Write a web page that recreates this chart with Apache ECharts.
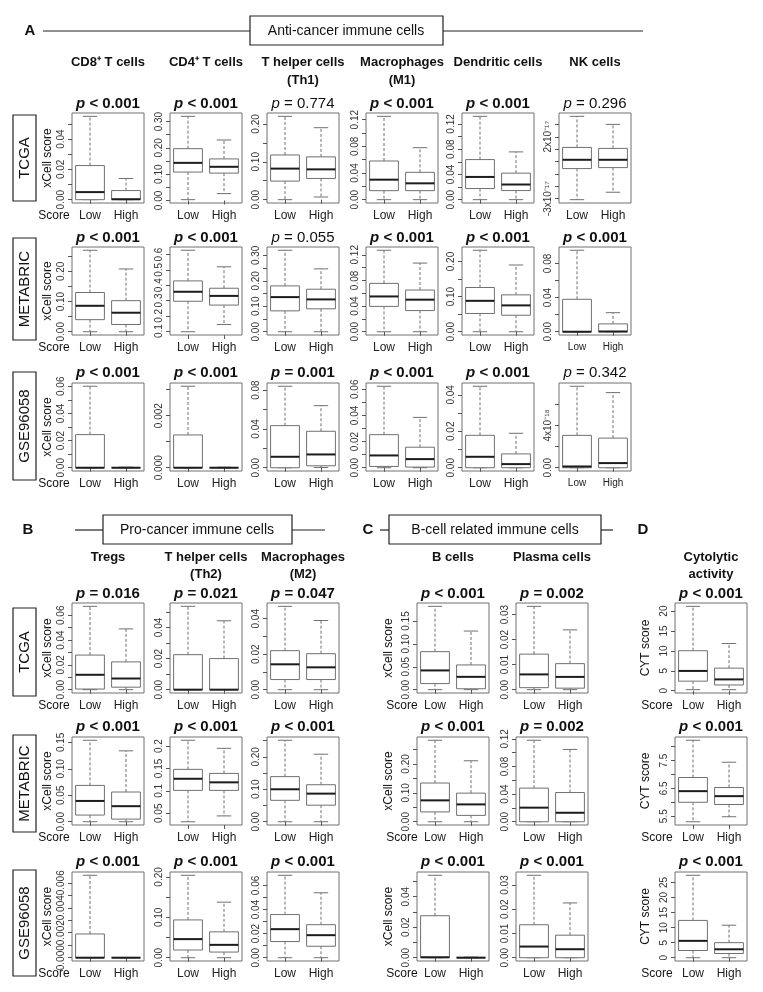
<!DOCTYPE html>
<html>
<head>
<meta charset="utf-8">
<title>xCell boxplots</title>
<script src="https://cdn.jsdelivr.net/npm/echarts@6/dist/echarts.min.js"></script>
<style>
html, body { margin: 0; padding: 0; background: #fff; }
#main { width: 763px; height: 992px; }
</style>
</head>
<body>
<div id="main"></div>
<script>
var groups = ['Low', 'High'];

// each box is [min, Q1, median, Q3, max], Low first then High
// A, TCGA
var tcgaCD8 = [[0, 0, 0.005, 0.0225, 0.055], [0, 0, 0.0003, 0.006, 0.014]];
var tcgaCD4 = [[0.003, 0.108, 0.143, 0.197, 0.32], [0.026, 0.104, 0.128, 0.158, 0.23]];
var tcgaTh1 = [[0, 0.049, 0.082, 0.118, 0.22], [0.007, 0.056, 0.08, 0.113, 0.19]];
var tcgaM1 = [[0, 0.0135, 0.03, 0.058, 0.125], [0, 0.0135, 0.0245, 0.041, 0.078]];
var tcgaDC = [[0, 0.0176, 0.036, 0.0635, 0.132], [0, 0.0144, 0.024, 0.042, 0.0757]];
var tcgaNK = [[-3.08e-17, -0.57e-17, 0.14e-17, 1.14e-17, 3.65e-17], [-2.48e-17, -0.49e-17, 0.14e-17, 1.06e-17, 3.0e-17]];
// A, METABRIC
var mbCD8 = [[0, 0.04, 0.086, 0.13, 0.27], [0, 0.024, 0.063, 0.103, 0.208]];
var mbCD4 = [[0.096, 0.295, 0.357, 0.428, 0.628], [0.143, 0.27, 0.33, 0.38, 0.52]];
var mbTh1 = [[0, 0.082, 0.136, 0.18, 0.32], [0, 0.09, 0.127, 0.167, 0.247]];
var mbM1 = [[0, 0.0395, 0.055, 0.0754, 0.127], [0, 0.033, 0.05, 0.065, 0.107]];
var mbDC = [[0, 0.052, 0.088, 0.126, 0.232], [0, 0.047, 0.075, 0.105, 0.19]];
var mbNK = [[0, 0, 0, 0.038, 0.0954], [0, 0, 0.0003, 0.0092, 0.0223]];
// A, GSE96058
var gseCD8 = [[0, 0, 0, 0.0244, 0.06], [0, 0, 0, 0.0002, 0.0004]];
var gseCD4 = [[0, 0, 0, 0.00126, 0.00313], [0, 0, 0, 0.00001, 0.00002]];
var gseTh1 = [[0, 0, 0.0113, 0.0434, 0.084], [0.0003, 0.002, 0.0137, 0.0376, 0.064]];
var gseM1 = [[0, 0.001, 0.0094, 0.0253, 0.0623], [0, 0.0005, 0.0066, 0.0157, 0.0385]];
var gseDC = [[0, 0, 0.006, 0.0178, 0.0447], [0, 0, 0.002, 0.0076, 0.0189]];
var gseNK = [[0, 0, 0.12e-18, 3.06e-18, 7.7e-18], [0, 0, 0.44e-18, 2.8e-18, 7.1e-18]];
// B, C, D - TCGA
var tcgaTreg = [[0, 0.0005, 0.012, 0.0279, 0.0672], [0, 0.002, 0.009, 0.0224, 0.049]];
var tcgaTh2 = [[0, 0, 0, 0.0225, 0.0536], [0, 0, 0, 0.02, 0.0443]];
var tcgaM2 = [[0, 0.0057, 0.0143, 0.022, 0.047], [0, 0.0057, 0.0126, 0.0203, 0.039]];
var tcgaB = [[0, 0.0133, 0.042, 0.083, 0.182], [0, 0.002, 0.028, 0.054, 0.128]];
var tcgaPlasma = [[0, 0.0008, 0.0061, 0.0142, 0.0333], [0, 0.0006, 0.0051, 0.0104, 0.0239]];
var tcgaCYT = [[0.26, 2.4, 4.97, 10.05, 21.2], [0.26, 1.44, 2.84, 5.67, 11.85]];
// B, C, D - METABRIC
var mbTreg = [[0, 0.0126, 0.0393, 0.0687, 0.154], [0, 0.005, 0.0294, 0.0562, 0.134]];
var mbTh2 = [[0.031, 0.101, 0.127, 0.148, 0.213], [0.044, 0.101, 0.119, 0.139, 0.195]];
var mbM2 = [[0, 0.066, 0.1, 0.139, 0.251], [0, 0.051, 0.0866, 0.114, 0.208]];
var mbB = [[0, 0.034, 0.074, 0.134, 0.282], [0, 0.022, 0.06, 0.099, 0.211]];
var mbPlasma = [[0, 0, 0.0204, 0.0487, 0.118], [0, 0, 0.013, 0.0423, 0.1047]];
var mbCYT = [[5.3, 6.0, 6.4, 6.89, 8.23], [5.48, 5.92, 6.22, 6.53, 7.44]];
// B, C, D - GSE96058
var gseTreg = [[0, 0, 0, 0.0019, 0.0066], [0, 0, 0, 0.00001, 0.00002]];
var gseTh2 = [[0, 0.019, 0.046, 0.0935, 0.204], [0, 0.014, 0.0318, 0.064, 0.1375]];
var gseM2 = [[0, 0.0134, 0.0237, 0.0358, 0.0684], [0, 0.0095, 0.0187, 0.0274, 0.0539]];
var gseB = [[0, 0, 0.0003, 0.0275, 0.054], [0, 0, 0, 0.0002, 0.0004]];
var gsePlasma = [[0, 0, 0.0046, 0.0136, 0.034], [0, 0, 0.0035, 0.0093, 0.0226]];
var gseCYT = [[0, 2.4, 5.6, 12.4, 27.4], [0, 1.4, 2.8, 5.0, 10.8]];

// y tick values and their labels ('' = tick without label)
var t2 = [0, 0.01, 0.02, 0.03, 0.04, 0.05, 0.06];
var tCD8a = [0, 0.01, 0.02, 0.03, 0.04, 0.05];          var lCD8a = ['0.00', '', '0.02', '', '0.04', ''];
var tCD4a = [0, 0.05, 0.1, 0.15, 0.2, 0.25, 0.3];       var lCD4a = ['0.00', '', '0.10', '', '0.20', '', '0.30'];
var tTh1a = [0, 0.05, 0.1, 0.15, 0.2];                  var lTh1a = ['0.00', '', '0.10', '', '0.20'];
var tM1a = [0, 0.02, 0.04, 0.06, 0.08, 0.1, 0.12];      var lM1a = ['0.00', '', '0.04', '', '0.08', '', '0.12'];
var tNKa = [-3e-17, -2e-17, -1e-17, 0, 1e-17, 2e-17, 3e-17];
var lNKa = ['-3x10\u207B\u00B9\u2077', '', '', '', '', '2x10\u207B\u00B9\u2077', ''];
var tCD8b = [0, 0.05, 0.1, 0.15, 0.2, 0.25];            var lCD8b = ['0.00', '', '0.10', '', '0.20', ''];
var tCD4b = [0.1, 0.2, 0.3, 0.4, 0.5, 0.6];             var lCD4b = ['0.1', '0.2', '0.3', '0.4', '0.5', '0.6'];
var tTh1b = [0, 0.05, 0.1, 0.15, 0.2, 0.25, 0.3];       var lTh1b = ['0.00', '', '0.10', '', '0.20', '', '0.30'];
var tDCb = [0, 0.05, 0.1, 0.15, 0.2];                   var lDCb = ['0.00', '', '0.10', '', '0.20'];
var tNKb = [0, 0.02, 0.04, 0.06, 0.08];                 var lNKb = ['0.00', '', '0.04', '', '0.08'];
var tCD8c = [0, 0.01, 0.02, 0.03, 0.04, 0.05, 0.06];    var lCD8c = ['0.00', '', '0.02', '', '0.04', '', '0.06'];
var tCD4c = [0, 0.001, 0.002, 0.003];                   var lCD4c = ['0.000', '', '0.002', ''];
var tTh1c = [0, 0.02, 0.04, 0.06, 0.08];                var lTh1c = ['0.00', '', '0.04', '', '0.08'];
var tDCc = [0, 0.01, 0.02, 0.03, 0.04];                 var lDCc = ['0.00', '', '0.02', '', '0.04'];
var tNKc = [0, 2e-18, 4e-18, 6e-18];                    var lNKc = ['0.00', '', '4x10\u207B\u00B9\u2078', ''];
var tTh2a = [0, 0.01, 0.02, 0.03, 0.04, 0.05];          var lTh2a = ['0.00', '', '0.02', '', '0.04', ''];
var tM2a = [0, 0.01, 0.02, 0.03, 0.04];                 var lM2a = ['0.00', '', '0.02', '', '0.04'];
var tBa = [0, 0.05, 0.1, 0.15];                         var lBa = ['0.00', '0.05', '0.10', '0.15'];
var tPla = [0, 0.01, 0.02, 0.03];                       var lPla = ['0.00', '0.01', '0.02', '0.03'];
var tCYTa = [0, 5, 10, 15, 20];                         var lCYTa = ['0', '5', '10', '15', '20'];
var tTregb = [0, 0.05, 0.1, 0.15];                      var lTregb = ['0.00', '0.05', '0.10', '0.15'];
var tTh2b = [0.05, 0.1, 0.15, 0.2];                     var lTh2b = ['0.05', '0.1', '0.15', '0.2'];
var tM2b = [0, 0.05, 0.1, 0.15, 0.2, 0.25];             var lM2b = ['0.00', '', '0.10', '', '0.20', ''];
var tPlb = [0, 0.02, 0.04, 0.06, 0.08, 0.1, 0.12];      var lPlb = ['0.00', '', '0.04', '', '0.08', '', '0.12'];
var tCYTb = [5.5, 6, 6.5, 7, 7.5, 8];                   var lCYTb = ['5.5', '', '6.5', '', '7.5', ''];
var tTregc = [0, 0.001, 0.002, 0.003, 0.004, 0.005, 0.006];
var lTregc = ['0.000', '', '0.002', '', '0.004', '', '0.006'];
var tBc = [0, 0.01, 0.02, 0.03, 0.04, 0.05];            var lBc = ['0.00', '', '0.02', '', '0.04', ''];
var tCYTc = [0, 5, 10, 15, 20, 25];                     var lCYTc = ['0', '5', '10', '15', '20', '25'];
var lEven6 = ['0.00', '', '0.02', '', '0.04', '', '0.06'];

// p value strings, bold flag
var pA1 = [['< 0.001', 1], ['< 0.001', 1], ['= 0.774', 0], ['< 0.001', 1], ['< 0.001', 1], ['= 0.296', 0]];
var pA2 = [['< 0.001', 1], ['< 0.001', 1], ['= 0.055', 0], ['< 0.001', 1], ['< 0.001', 1], ['< 0.001', 1]];
var pA3 = [['< 0.001', 1], ['< 0.001', 1], ['= 0.001', 1], ['< 0.001', 1], ['< 0.001', 1], ['= 0.342', 0]];
var pB1 = [['= 0.016', 1], ['= 0.021', 1], ['= 0.047', 1], ['< 0.001', 1], ['= 0.002', 1], ['< 0.001', 1]];
var pB2 = [['< 0.001', 1], ['< 0.001', 1], ['< 0.001', 1], ['< 0.001', 1], ['= 0.002', 1], ['< 0.001', 1]];
var pB3 = [['< 0.001', 1], ['< 0.001', 1], ['< 0.001', 1], ['< 0.001', 1], ['< 0.001', 1], ['< 0.001', 1]];

var titlesA = [['CD8\u207A T cells'], ['CD4\u207A T cells'], ['T helper cells', '(Th1)'], ['Macrophages', '(M1)'], ['Dendritic cells'], ['NK cells']];
var titlesB = [['Tregs'], ['T helper cells', '(Th2)'], ['Macrophages', '(M2)'], ['B cells'], ['Plasma cells'], ['Cytolytic', 'activity']];
var cohorts = ['TCGA', 'METABRIC', 'GSE96058'];

var FONT = '"Liberation Sans", Arial, Helvetica, sans-serif';
var BOXC = '#707070';

var grids = [], xAxes = [], yAxes = [], series = [], graphics = [];

function renderBox(params, api) {
    var k = api.value(0);
    var pMin = api.coord([k, api.value(1)]);
    var pQ1 = api.coord([k, api.value(2)]);
    var pMed = api.coord([k, api.value(3)]);
    var pQ3 = api.coord([k, api.value(4)]);
    var pMax = api.coord([k, api.value(5)]);
    var w = api.size([1, 0])[0] * 0.8;
    var cx = pMed[0];
    var dash = { stroke: BOXC, lineWidth: 1, lineDash: [3, 2] };
    var solid = { stroke: BOXC, lineWidth: 1 };
    return {
        type: 'group',
        children: [
            { type: 'line', shape: { x1: cx, y1: pQ3[1], x2: cx, y2: pMax[1] }, style: dash },
            { type: 'line', shape: { x1: cx, y1: pQ1[1], x2: cx, y2: pMin[1] }, style: dash },
            { type: 'line', shape: { x1: cx - w / 4, y1: pMax[1], x2: cx + w / 4, y2: pMax[1] }, style: solid },
            { type: 'line', shape: { x1: cx - w / 4, y1: pMin[1], x2: cx + w / 4, y2: pMin[1] }, style: solid },
            { type: 'rect', shape: { x: cx - w / 2, y: pQ3[1], width: w, height: pQ1[1] - pQ3[1] }, style: { fill: '#fff', stroke: BOXC, lineWidth: 1 } },
            { type: 'line', shape: { x1: cx - w / 2, y1: pMed[1], x2: cx + w / 2, y2: pMed[1] }, style: { stroke: '#1c1c1c', lineWidth: 2 } }
        ]
    };
}

function addPlot(stats, ticks, labels, left, top, height, xFont) {
    var i = grids.length;
    var lo = Math.min(stats[0][0], stats[1][0]);
    var hi = Math.max(stats[0][4], stats[1][4]);
    var pad = (hi - lo) * 0.04;
    var eps = (hi - lo) * 1e-6;
    var labVals = [];
    ticks.forEach(function (t, k) { if (labels[k]) labVals.push(t); });
    grids.push({ left: left, top: top, width: 72, height: height, show: true, borderColor: BOXC, borderWidth: 1, backgroundColor: 'transparent' });
    xAxes.push({
        gridIndex: i, type: 'category', data: groups,
        axisLine: { show: false }, splitLine: { show: false },
        axisTick: { show: true, alignWithLabel: true, length: 4, lineStyle: { color: '#555' } },
        axisLabel: { interval: 0, fontSize: xFont || 12, margin: 7, color: '#222', fontFamily: FONT }
    });
    yAxes.push({
        gridIndex: i, type: 'value', min: lo - pad, max: hi + pad,
        axisLine: { show: false }, splitLine: { show: false },
        axisTick: { show: true, length: 4, customValues: ticks, lineStyle: { color: '#555' } },
        axisLabel: {
            customValues: labVals, rotate: 90, fontSize: 10, margin: 6, color: '#333', fontFamily: FONT,
            formatter: function (v) {
                for (var k = 0; k < ticks.length; k++) {
                    if (Math.abs(ticks[k] - v) <= eps) return labels[k];
                }
                return '';
            }
        }
    });
    series.push({
        type: 'custom', xAxisIndex: i, yAxisIndex: i, renderItem: renderBox, silent: true, animation: false,
        encode: { x: 0, y: [1, 2, 3, 4, 5] },
        data: stats.map(function (s, k) { return [k].concat(s); })
    });
}

function txt(x, y, s, size, weight, rot, extra) {
    var el = {
        type: 'text', x: x, y: y, rotation: rot || 0,
        style: { text: s, fontSize: size, fontWeight: weight || 'normal', fontFamily: FONT, fill: '#111', align: 'center', verticalAlign: 'middle' }
    };
    if (extra) el.style.rich = extra;
    return el;
}
function line(x1, y1, x2, y2) {
    return { type: 'line', shape: { x1: x1, y1: y1, x2: x2, y2: y2 }, style: { stroke: '#222', lineWidth: 1.2 } };
}
function rect(x, y, w, h) {
    return { type: 'rect', shape: { x: x, y: y, width: w, height: h }, style: { fill: 'none', stroke: '#222', lineWidth: 1.2 } };
}
function pval(x, y, p) {
    var wt = p[1] ? 'bold' : 'normal';
    return txt(x, y, '{i|p}{v| ' + p[0] + '}', 15, wt, 0, {
        i: { fontSize: 15, fontStyle: 'italic', fontWeight: wt, fontFamily: FONT, fill: '#111' },
        v: { fontSize: 15, fontWeight: wt, fontFamily: FONT, fill: '#111' }
    });
}

// layout
var colA = [72, 170, 267, 366, 462, 559];
var rowA = [[113, 90], [247, 88], [383, 88]];
var colB = [72, 170, 267, 417, 516, 675];
var rowB = [[603, 90], [737, 88], [872, 89]];

var plotsA = [
    [[tcgaCD8, tCD8a, lCD8a], [tcgaCD4, tCD4a, lCD4a], [tcgaTh1, tTh1a, lTh1a], [tcgaM1, tM1a, lM1a], [tcgaDC, tM1a, lM1a], [tcgaNK, tNKa, lNKa]],
    [[mbCD8, tCD8b, lCD8b], [mbCD4, tCD4b, lCD4b], [mbTh1, tTh1b, lTh1b], [mbM1, tM1a, lM1a], [mbDC, tDCb, lDCb], [mbNK, tNKb, lNKb]],
    [[gseCD8, tCD8c, lCD8c], [gseCD4, tCD4c, lCD4c], [gseTh1, tTh1c, lTh1c], [gseM1, tCD8c, lEven6], [gseDC, tDCc, lDCc], [gseNK, tNKc, lNKc]]
];
var plotsB = [
    [[tcgaTreg, t2, lEven6], [tcgaTh2, tTh2a, lTh2a], [tcgaM2, tM2a, lM2a], [tcgaB, tBa, lBa], [tcgaPlasma, tPla, lPla], [tcgaCYT, tCYTa, lCYTa]],
    [[mbTreg, tTregb, lTregb], [mbTh2, tTh2b, lTh2b], [mbM2, tM2b, lM2b], [mbB, tM2b, lM2b], [mbPlasma, tPlb, lPlb], [mbCYT, tCYTb, lCYTb]],
    [[gseTreg, tTregc, lTregc], [gseTh2, tDCb, lDCb], [gseM2, t2, lEven6], [gseB, tBc, lBc], [gsePlasma, tPla, lPla], [gseCYT, tCYTc, lCYTc]]
];
var pA = [pA1, pA2, pA3], pB = [pB1, pB2, pB3];
var pyA = [104, 238, 373], pyB = [594, 727, 862];
var cohortBoxA = [[115, 86], [238, 102], [372, 108]];
var cohortBoxB = [[608, 88], [735, 97], [870, 106]];

plotsA.forEach(function (row, r) {
    row.forEach(function (p, c) {
        addPlot(p[0], p[1], p[2], colA[c], rowA[r][0], rowA[r][1], (c === 5 && r > 0) ? 10 : 12);
        graphics.push(pval(colA[c] + 36, pyA[r], pA[r][c]));
    });
});
plotsB.forEach(function (row, r) {
    row.forEach(function (p, c) {
        addPlot(p[0], p[1], p[2], colB[c], rowB[r][0], rowB[r][1], 12);
        graphics.push(pval(colB[c] + 36, pyB[r], pB[r][c]));
    });
});

// column titles
titlesA.forEach(function (t, c) {
    t.forEach(function (s, k) { graphics.push(txt(colA[c] + 36, 62 + k * 18, s, 13, 'bold')); });
});
titlesB.forEach(function (t, c) {
    t.forEach(function (s, k) { graphics.push(txt(colB[c] + 36, 557 + k * 17, s, 13, 'bold')); });
});

// cohort boxes, axis names, "Score"
[[rowA, cohortBoxA], [rowB, cohortBoxB]].forEach(function (set) {
    set[0].forEach(function (rw, r) {
        var b = set[1][r];
        graphics.push(rect(13, b[0], 23, b[1]));
        graphics.push(txt(24.5, b[0] + b[1] / 2, cohorts[r], 15, 'normal', Math.PI / 2));
        var mid = rw[0] + rw[1] / 2;
        var ly = rw[0] + rw[1] + 13;
        graphics.push(txt(48, mid, 'xCell score', 12, 'normal', Math.PI / 2));
        graphics.push(txt(54, ly, 'Score', 12));
        if (set[0] === rowB) {
            graphics.push(txt(389, mid, 'xCell score', 12, 'normal', Math.PI / 2));
            graphics.push(txt(402, ly, 'Score', 12));
            graphics.push(txt(646, mid, 'CYT score', 12, 'normal', Math.PI / 2));
            graphics.push(txt(657, ly, 'Score', 12));
        }
    });
});

// section headers
graphics.push(txt(30, 31, 'A', 15, 'bold'));
graphics.push(line(43, 31, 250, 31), rect(250, 16, 193, 29), txt(346, 31, 'Anti-cancer immune cells', 14), line(443, 31, 643, 31));
graphics.push(txt(28, 530, 'B', 15, 'bold'));
graphics.push(line(75, 530, 103, 530), rect(103, 515, 189, 29), txt(197, 530, 'Pro-cancer immune cells', 14), line(292, 530, 325, 530));
graphics.push(txt(368, 530, 'C', 15, 'bold'));
graphics.push(line(380, 530, 389, 530), rect(389, 515, 212, 29), txt(495, 530, 'B-cell related immune cells', 14), line(601, 530, 613, 530));
graphics.push(txt(643, 530, 'D', 15, 'bold'));

var chart = echarts.init(document.getElementById('main'));
chart.setOption({
    backgroundColor: '#fff',
    animation: false,
    grid: grids,
    xAxis: xAxes,
    yAxis: yAxes,
    series: series,
    graphic: graphics
});
</script>
</body>
</html>
